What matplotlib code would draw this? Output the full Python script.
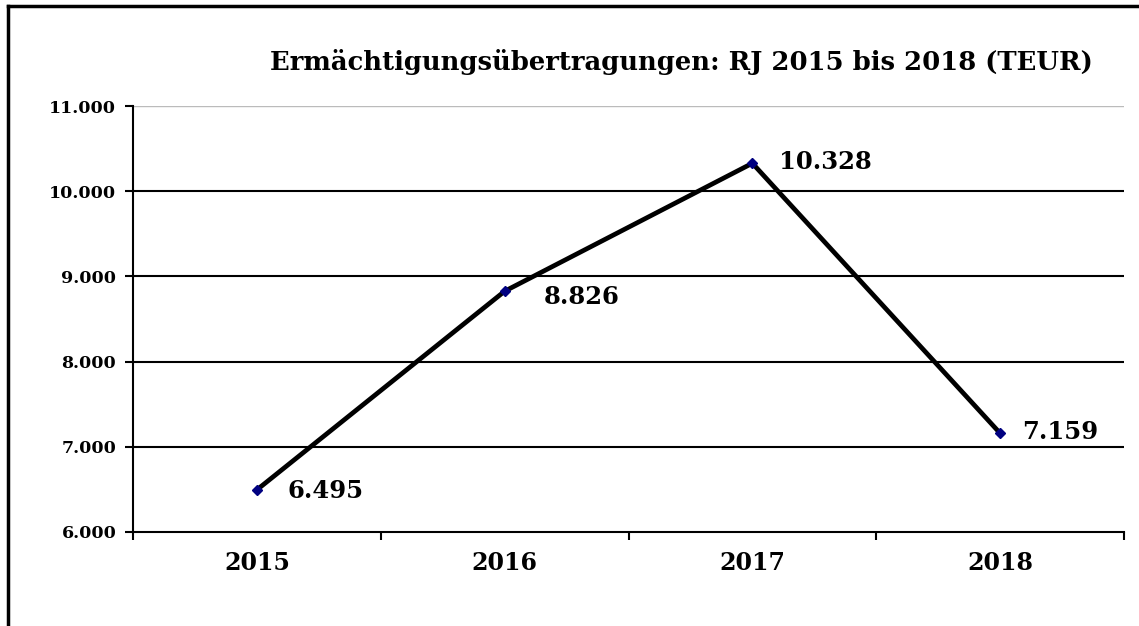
import matplotlib.pyplot as plt
from matplotlib.lines import Line2D
from matplotlib.ticker import FuncFormatter

years = ['2015', '2016', '2017', '2018']
values = [6495, 8826, 10328, 7159]
labels = ['6.495', '8.826', '10.328', '7.159']
title = 'Ermächtigungsübertragungen: RJ 2015 bis 2018 (TEUR)'

plt.rcParams['font.family'] = ['DejaVu Serif']
plt.rcParams['font.weight'] = 'bold'

fig = plt.figure(figsize=(11.39, 6.26), dpi=100)
ax = fig.add_axes([133 / 1139, 1 - 532 / 626, (1124 - 133) / 1139, (532 - 106) / 626])

x = list(range(len(years)))
ax.plot(x, values, color='black', linewidth=3.4, zorder=3)
ax.plot(x, values, linestyle='none', marker='D', markersize=5.5, color='#000080', zorder=4)

# value labels sit to the right of each point (offsets in points)
offsets = [(22, -1), (28, -4), (19, 1), (16, 1)]
for xi, v, lab, off in zip(x, values, labels, offsets):
    ax.annotate(lab, (xi, v), xytext=off, textcoords='offset points',
                ha='left', va='center', fontsize=17.5, fontweight='bold')

ax.set_xlim(-0.5, 3.5)
ax.set_ylim(6000, 11000)
ax.set_yticks([6000, 7000, 8000, 9000, 10000, 11000])
ax.yaxis.set_major_formatter(FuncFormatter(lambda v, p: f'{int(v):,}'.replace(',', '.')))
ax.tick_params(axis='y', labelsize=12.5, direction='out', length=6, width=1.5, pad=6)

ax.set_xticks(x)
ax.set_xticklabels(years, fontsize=17, fontweight='bold')
ax.set_xticks([-0.5, 0.5, 1.5, 2.5, 3.5], minor=True)
ax.tick_params(axis='x', which='major', length=0, pad=14)
ax.tick_params(axis='x', which='minor', direction='out', length=6, width=1.5)

for yv in [7000, 8000, 9000, 10000]:
    ax.axhline(yv, color='black', linewidth=1.5, zorder=1)
ax.axhline(11000, color='#bbbbbb', linewidth=1, zorder=1)

ax.spines['top'].set_visible(False)
ax.spines['right'].set_visible(False)
ax.spines['left'].set_linewidth(1.5)
ax.spines['bottom'].set_linewidth(1.5)

fig.text(270 / 1139, 1 - 62 / 626, title, ha='left', va='center', fontsize=18.6, fontweight='bold')

# outer frame lines (top and left)
fig.add_artist(Line2D([8 / 1139, 1], [1 - 6 / 626, 1 - 6 / 626], color='black', linewidth=2.5,
                      transform=fig.transFigure))
fig.add_artist(Line2D([8 / 1139, 8 / 1139], [0, 1 - 6 / 626], color='black', linewidth=2.5,
                      transform=fig.transFigure))

fig.savefig('out.png', dpi=100)
